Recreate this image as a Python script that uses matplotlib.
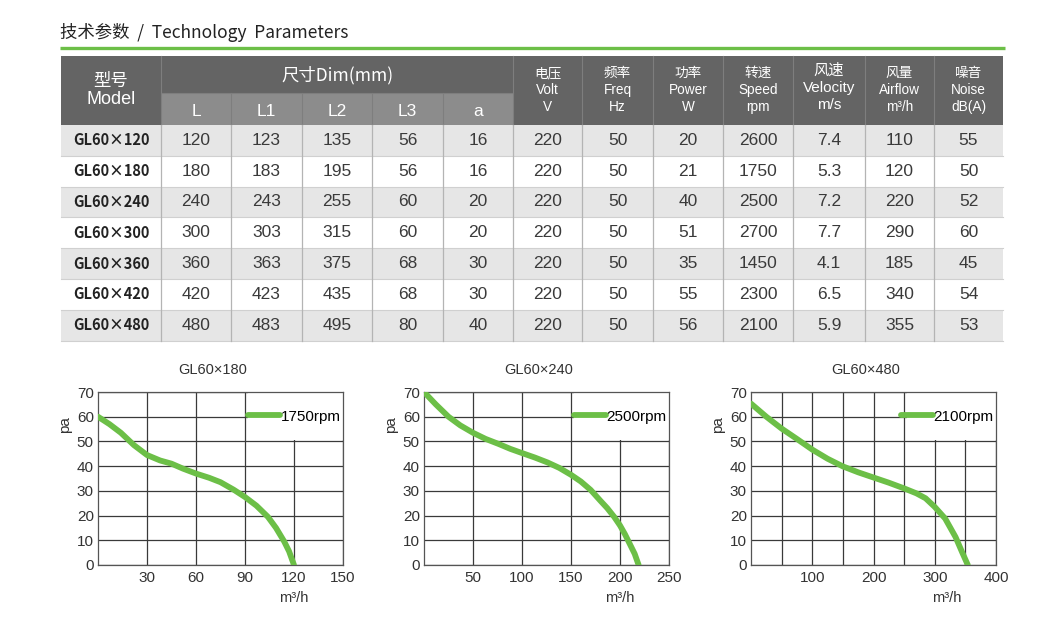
import matplotlib.pyplot as plt
from matplotlib.patches import Rectangle

plt.rcParams['font.family'] = ['Liberation Sans', 'DejaVu Sans']
CJK = ['Noto Sans CJK SC', 'DejaVu Sans']

# table data
models = ["GL60×120", "GL60×180", "GL60×240", "GL60×300", "GL60×360", "GL60×420", "GL60×480"]
dim_L = [120, 180, 240, 300, 360, 420, 480]
dim_L1 = [123, 183, 243, 303, 363, 423, 483]
dim_L2 = [135, 195, 255, 315, 375, 435, 495]
dim_L3 = [56, 56, 60, 60, 68, 68, 80]
dim_a = [16, 16, 20, 20, 30, 30, 40]
volt = [220, 220, 220, 220, 220, 220, 220]
freq = [50, 50, 50, 50, 50, 50, 50]
power = [20, 21, 40, 51, 35, 55, 56]
speed = [2600, 1750, 2500, 2700, 1450, 2300, 2100]
velocity = [7.4, 5.3, 7.2, 7.7, 4.1, 6.5, 5.9]
airflow = [110, 120, 220, 290, 185, 340, 355]
noise = [55, 50, 52, 60, 45, 54, 53]

dim_heads = ["L", "L1", "L2", "L3", "a"]
right_heads = [("电压", "Volt", "V"), ("频率", "Freq", "Hz"), ("功率", "Power", "W"),
               ("转速", "Speed", "rpm"), ("风速", "Velocity", "m/s"),
               ("风量", "Airflow", "m³/h"), ("噪音", "Noise", "dB(A)")]

# fan curves (airflow m3/h vs pressure pa)
q180 = [0, 7, 14, 22, 30, 38, 45, 52, 60, 68, 75, 83, 90, 97, 104, 109, 114, 117, 120]
p180 = [60, 57, 53.5, 48.5, 44.5, 42.3, 41, 39, 37, 35.3, 33.5, 30.5, 27.5, 24, 19.5, 15, 9.5, 5.5, 0]
q240 = [0, 12, 25, 37, 50, 63, 76, 88, 100, 113, 126, 138, 150, 160, 170, 180, 187, 194, 200, 205, 210, 215, 219]
p240 = [70, 65, 60, 56.5, 53.5, 51, 49, 47, 45.3, 43.5, 41.5, 39.3, 36.5, 33.8, 30.4, 26, 23, 19.5, 16, 12.5, 8.5, 4.5, 0]
q480 = [0, 25, 50, 75, 100, 125, 150, 175, 200, 225, 250, 270, 285, 300, 317, 334, 345, 354]
p480 = [65.3, 60, 55.2, 51, 46.7, 43, 39.9, 37.5, 35.4, 33.3, 31, 29, 27, 23.5, 18.8, 11.3, 5, 0]

GREEN = '#6cbf47'
W, H = 1063, 632
fig = plt.figure(figsize=(W / 100, H / 100), dpi=100)

# ---------- table, drawn in pixel coords ----------
tb = fig.add_axes([0, 0, 1, 1])
tb.set_xlim(0, W)
tb.set_ylim(H, 0)
tb.axis('off')

tb.text(60, 32, "技术参数  /  Technology  Parameters", family=CJK, fontsize=12.5,
        color='#222222', va='center', ha='left')
tb.plot([60, 1005], [48, 48], color=GREEN, lw=2.4, solid_capstyle='butt')

edges = [61, 161, 231, 302, 372, 443, 513, 582, 653, 723, 793, 865, 934, 1003]
top, mid, hbot = 56, 93, 125
row_h = 30.8
dark, light = '#646464', '#8c8c8c'

# header blocks
tb.add_patch(Rectangle((edges[0], top), edges[-1] - edges[0], hbot - top, color=dark, lw=0))
tb.add_patch(Rectangle((edges[1], mid), edges[6] - edges[1], hbot - mid, color=light, lw=0))
for x in edges[1:-1]:
    y0 = mid if 1 < edges.index(x) < 6 else top
    tb.plot([x, x], [y0, hbot], color='#7e7e7e', lw=0.8)
tb.plot([edges[1], edges[6]], [mid, mid], color='#7e7e7e', lw=0.8)

tb.text((edges[0] + edges[1]) / 2, 81, "型号", family=CJK, fontsize=12.5, color='white', ha='center', va='center')
tb.text((edges[0] + edges[1]) / 2, 100, "Model", fontsize=13, color='white', ha='center', va='center')
tb.text((edges[1] + edges[6]) / 2, 75, "尺寸Dim(mm)", family=CJK, fontsize=12.5, color='white', ha='center', va='center')
for i, h in enumerate(dim_heads):
    tb.text((edges[1 + i] + edges[2 + i]) / 2, 111, h, fontsize=12.5, color='white', ha='center', va='center')
for i, (cn, en, unit) in enumerate(right_heads):
    cx = (edges[6 + i] + edges[7 + i]) / 2
    if en == "Velocity":
        ys, fs = (70, 88, 105), 11
    else:
        ys, fs = (73, 90, 107), 9.8
    tb.text(cx, ys[0], cn, family=CJK, fontsize=fs, color='white', ha='center', va='center')
    tb.text(cx, ys[1], en, fontsize=fs, color='white', ha='center', va='center')
    tb.text(cx, ys[2], unit, fontsize=fs, color='white', ha='center', va='center')

# body rows
cols = [dim_L, dim_L1, dim_L2, dim_L3, dim_a, volt, freq, power, speed, velocity, airflow, noise]
for r, m in enumerate(models):
    y0 = hbot + r * row_h
    if r % 2 == 0:
        tb.add_patch(Rectangle((edges[0], y0), edges[-1] - edges[0], row_h, color='#e6e6e6', lw=0))
    tb.plot([edges[0], edges[-1]], [y0 + row_h, y0 + row_h], color='#d0d0d0', lw=0.8)
    yc = y0 + row_h / 2
    tb.text((edges[0] + edges[1]) / 2, yc, m, family=CJK, fontsize=10.5, fontweight='bold',
            color='#222222', ha='center', va='center')
    for c, vals in enumerate(cols):
        tb.text((edges[1 + c] + edges[2 + c]) / 2, yc, str(vals[r]), fontsize=12.5,
                color='#3a3a3a', ha='center', va='center')
for x in edges[1:-1]:
    tb.plot([x, x], [hbot, hbot + 7 * row_h], color='#b4b4b4', lw=0.9)


# ---------- fan curve charts ----------
def curve(left_px, title, q, p, rpm, xmax, xticks, xgrid, cut):
    ax = fig.add_axes([left_px / W, 1 - 565 / H, 245 / W, 173 / H])
    ax.set_xlim(0, xmax)
    ax.set_ylim(0, 70)
    ax.set_xticks(xticks)
    ax.set_xticks(xgrid, minor=True)
    ax.set_yticks(range(0, 71, 10))
    ax.set_axisbelow(True)
    ax.grid(True, which='both', color='#3a3a3a', lw=0.9)
    ax.tick_params(which='both', length=0, labelsize=11, labelcolor='#333333')
    ax.tick_params(axis='x', pad=4.5)
    ax.tick_params(axis='y', pad=3)
    for s in ax.spines.values():
        s.set_color('#555555')
        s.set_linewidth(0.9)
    # white area behind the legend
    ax.add_patch(Rectangle((cut + xmax * 0.012, 50.6), xmax - cut, 20, color='white', lw=0, zorder=1))
    ax.plot(q, p, color=GREEN, lw=4.2, label=rpm, zorder=3, solid_capstyle='round')
    ax.legend(loc='center right', bbox_to_anchor=(0.99, 6 / 7), frameon=False, fontsize=11,
              handlelength=2.1, handletextpad=0.05, borderpad=0, borderaxespad=0)
    ax.text(0.47, 1.13, title, transform=ax.transAxes, ha='center', va='center', fontsize=10.5, color='#333333')
    ax.text(-0.135, 0.81, "pa", transform=ax.transAxes, rotation=90, ha='center', va='center',
            fontsize=11, color='#333333')
    ax.text(0.8, -0.19, "m³/h", transform=ax.transAxes, ha='center', va='center', fontsize=10.5, color='#333333')
    return ax


curve(98, "GL60×180", q180, p180, "1750rpm", 150, [30, 60, 90, 120, 150], [30, 60, 90, 120], 90)
curve(424, "GL60×240", q240, p240, "2500rpm", 250, [50, 100, 150, 200, 250], [50, 100, 150, 200], 150)
curve(751, "GL60×480", q480, p480, "2100rpm", 400, [100, 200, 300, 400],
      [50, 100, 150, 200, 250, 300, 350], 250)

fig.savefig('out.png', dpi=100)
